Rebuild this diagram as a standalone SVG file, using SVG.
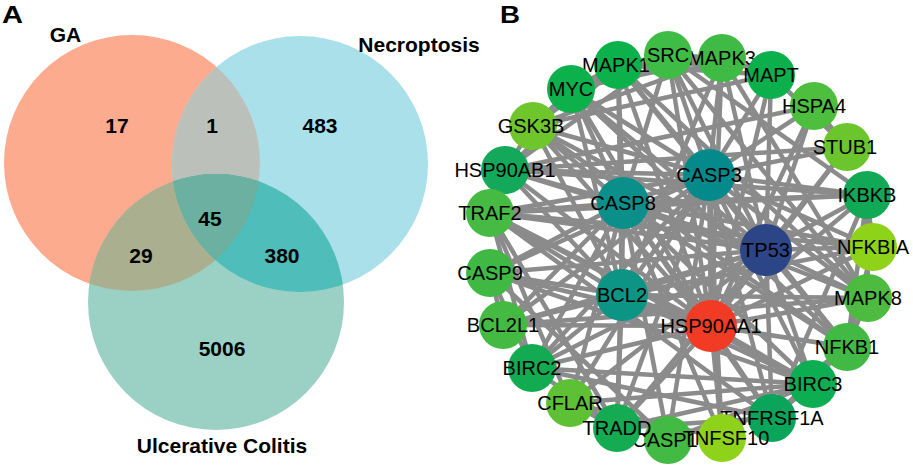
<svg xmlns="http://www.w3.org/2000/svg" width="913" height="467" viewBox="0 0 913 467">
<style>
.lbl{font-family:"Liberation Sans",Arial,sans-serif;font-weight:bold;font-size:21px;fill:#000;text-anchor:middle}
.pan{font-family:"Liberation Sans",Arial,sans-serif;font-weight:bold;font-size:24px;fill:#000}
.nt{font-family:"Liberation Sans",Arial,sans-serif;font-size:20px;fill:#000;text-anchor:middle}
.e line{stroke:#8b8b8b;stroke-width:4.5}
</style>
<defs>
<clipPath id="cGA"><circle cx="132" cy="163" r="128"/></clipPath>
<clipPath id="cNE"><circle cx="300" cy="164" r="128"/></clipPath>
</defs>
<rect width="913" height="467" fill="#fff"/>
<text class="pan" x="2" y="23" textLength="21" lengthAdjust="spacingAndGlyphs">A</text>
<text class="pan" x="500" y="23" textLength="20" lengthAdjust="spacingAndGlyphs">B</text>
<g id="venn">
<circle id="ga" cx="132" cy="163" r="128" fill="#fcab8f"/>
<circle id="nec" cx="300" cy="164" r="128" fill="#a9e0ea"/>
<circle id="uc" cx="216" cy="302" r="128" fill="#9bd1c4"/>
<g clip-path="url(#cGA)"><circle cx="300" cy="164" r="128" fill="#bcc0ba"/></g>
<g clip-path="url(#cGA)"><circle cx="216" cy="302" r="128" fill="#aab08f"/></g>
<g clip-path="url(#cNE)"><circle cx="216" cy="302" r="128" fill="#4fbdb9"/></g>
<g clip-path="url(#cGA)"><g clip-path="url(#cNE)"><circle cx="216" cy="302" r="128" fill="#6bb0a0"/></g></g>
<text class="lbl" x="65.5" y="42">GA</text>
<text class="lbl" x="419" y="52">Necroptosis</text>
<text class="lbl" x="222" y="453">Ulcerative Colitis</text>
<text class="lbl" x="117" y="133">17</text>
<text class="lbl" x="212" y="133">1</text>
<text class="lbl" x="320" y="133">483</text>
<text class="lbl" x="210" y="226">45</text>
<text class="lbl" x="141" y="263">29</text>
<text class="lbl" x="282" y="263">380</text>
<text class="lbl" x="222" y="356">5006</text>
</g>
<g id="edges" class="e">
<line x1="711" y1="326" x2="571" y2="89"/><line x1="711" y1="326" x2="618" y2="65"/><line x1="711" y1="326" x2="668" y2="55"/><line x1="711" y1="326" x2="722" y2="58"/><line x1="711" y1="326" x2="771" y2="75"/><line x1="711" y1="326" x2="814" y2="106"/><line x1="711" y1="326" x2="847" y2="147"/><line x1="711" y1="326" x2="533" y2="126"/><line x1="711" y1="326" x2="505" y2="170"/><line x1="711" y1="326" x2="490" y2="213"/><line x1="711" y1="326" x2="490" y2="273"/><line x1="711" y1="326" x2="503" y2="325"/><line x1="711" y1="326" x2="532" y2="368"/><line x1="711" y1="326" x2="617" y2="428"/><line x1="711" y1="326" x2="722" y2="438"/><line x1="711" y1="326" x2="772" y2="418"/><line x1="711" y1="326" x2="813" y2="384"/><line x1="711" y1="326" x2="847" y2="347"/><line x1="711" y1="326" x2="868" y2="298"/><line x1="711" y1="326" x2="873" y2="247"/><line x1="711" y1="326" x2="867" y2="195"/><line x1="711" y1="326" x2="623" y2="203"/><line x1="711" y1="326" x2="709" y2="175"/><line x1="711" y1="326" x2="766" y2="250"/><line x1="711" y1="326" x2="622" y2="295"/>
<line x1="766" y1="250" x2="571" y2="89"/><line x1="766" y1="250" x2="618" y2="65"/><line x1="766" y1="250" x2="668" y2="55"/><line x1="766" y1="250" x2="722" y2="58"/><line x1="766" y1="250" x2="771" y2="75"/><line x1="766" y1="250" x2="814" y2="106"/><line x1="766" y1="250" x2="847" y2="147"/><line x1="766" y1="250" x2="533" y2="126"/><line x1="766" y1="250" x2="505" y2="170"/><line x1="766" y1="250" x2="490" y2="213"/><line x1="766" y1="250" x2="490" y2="273"/><line x1="766" y1="250" x2="503" y2="325"/><line x1="766" y1="250" x2="532" y2="368"/><line x1="766" y1="250" x2="570" y2="403"/><line x1="766" y1="250" x2="617" y2="428"/><line x1="766" y1="250" x2="772" y2="418"/><line x1="766" y1="250" x2="813" y2="384"/><line x1="766" y1="250" x2="847" y2="347"/><line x1="766" y1="250" x2="868" y2="298"/><line x1="766" y1="250" x2="873" y2="247"/><line x1="766" y1="250" x2="867" y2="195"/><line x1="766" y1="250" x2="623" y2="203"/><line x1="766" y1="250" x2="709" y2="175"/><line x1="766" y1="250" x2="622" y2="295"/>
<line x1="709" y1="175" x2="571" y2="89"/><line x1="709" y1="175" x2="618" y2="65"/><line x1="709" y1="175" x2="668" y2="55"/><line x1="709" y1="175" x2="722" y2="58"/><line x1="709" y1="175" x2="771" y2="75"/><line x1="709" y1="175" x2="814" y2="106"/><line x1="709" y1="175" x2="847" y2="147"/><line x1="709" y1="175" x2="533" y2="126"/><line x1="709" y1="175" x2="505" y2="170"/><line x1="709" y1="175" x2="490" y2="213"/><line x1="709" y1="175" x2="490" y2="273"/><line x1="709" y1="175" x2="503" y2="325"/><line x1="709" y1="175" x2="532" y2="368"/><line x1="709" y1="175" x2="570" y2="403"/><line x1="709" y1="175" x2="617" y2="428"/><line x1="709" y1="175" x2="668" y2="440"/><line x1="709" y1="175" x2="722" y2="438"/><line x1="709" y1="175" x2="772" y2="418"/><line x1="709" y1="175" x2="813" y2="384"/><line x1="709" y1="175" x2="847" y2="347"/><line x1="709" y1="175" x2="868" y2="298"/><line x1="709" y1="175" x2="873" y2="247"/><line x1="709" y1="175" x2="867" y2="195"/><line x1="709" y1="175" x2="623" y2="203"/><line x1="709" y1="175" x2="622" y2="295"/>
<line x1="623" y1="203" x2="571" y2="89"/><line x1="623" y1="203" x2="618" y2="65"/><line x1="623" y1="203" x2="668" y2="55"/><line x1="623" y1="203" x2="533" y2="126"/><line x1="623" y1="203" x2="505" y2="170"/><line x1="623" y1="203" x2="490" y2="213"/><line x1="623" y1="203" x2="490" y2="273"/><line x1="623" y1="203" x2="503" y2="325"/><line x1="623" y1="203" x2="532" y2="368"/><line x1="623" y1="203" x2="570" y2="403"/><line x1="623" y1="203" x2="617" y2="428"/><line x1="623" y1="203" x2="668" y2="440"/><line x1="623" y1="203" x2="722" y2="438"/><line x1="623" y1="203" x2="772" y2="418"/><line x1="623" y1="203" x2="813" y2="384"/><line x1="623" y1="203" x2="847" y2="347"/><line x1="623" y1="203" x2="868" y2="298"/><line x1="623" y1="203" x2="873" y2="247"/><line x1="623" y1="203" x2="867" y2="195"/><line x1="623" y1="203" x2="622" y2="295"/>
<line x1="622" y1="295" x2="571" y2="89"/><line x1="622" y1="295" x2="618" y2="65"/><line x1="622" y1="295" x2="722" y2="58"/><line x1="622" y1="295" x2="533" y2="126"/><line x1="622" y1="295" x2="505" y2="170"/><line x1="622" y1="295" x2="490" y2="213"/><line x1="622" y1="295" x2="490" y2="273"/><line x1="622" y1="295" x2="503" y2="325"/><line x1="622" y1="295" x2="532" y2="368"/><line x1="622" y1="295" x2="617" y2="428"/><line x1="622" y1="295" x2="813" y2="384"/><line x1="622" y1="295" x2="868" y2="298"/><line x1="622" y1="295" x2="873" y2="247"/>
<line x1="618" y1="65" x2="722" y2="58"/><line x1="618" y1="65" x2="668" y2="55"/><line x1="722" y1="58" x2="668" y2="55"/><line x1="618" y1="65" x2="571" y2="89"/><line x1="722" y1="58" x2="571" y2="89"/><line x1="618" y1="65" x2="868" y2="298"/><line x1="722" y1="58" x2="868" y2="298"/><line x1="618" y1="65" x2="771" y2="75"/><line x1="722" y1="58" x2="771" y2="75"/><line x1="533" y1="126" x2="771" y2="75"/><line x1="533" y1="126" x2="571" y2="89"/><line x1="533" y1="126" x2="618" y2="65"/><line x1="533" y1="126" x2="722" y2="58"/><line x1="533" y1="126" x2="847" y2="347"/><line x1="533" y1="126" x2="505" y2="170"/><line x1="668" y1="55" x2="868" y2="298"/><line x1="668" y1="55" x2="505" y2="170"/><line x1="668" y1="55" x2="867" y2="195"/><line x1="814" y1="106" x2="847" y2="147"/><line x1="814" y1="106" x2="505" y2="170"/><line x1="847" y1="147" x2="505" y2="170"/><line x1="847" y1="147" x2="771" y2="75"/><line x1="505" y1="170" x2="867" y2="195"/><line x1="505" y1="170" x2="618" y2="65"/>
<line x1="490" y1="213" x2="532" y2="368"/><line x1="490" y1="213" x2="813" y2="384"/><line x1="490" y1="213" x2="617" y2="428"/><line x1="490" y1="213" x2="772" y2="418"/><line x1="490" y1="213" x2="867" y2="195"/><line x1="490" y1="213" x2="873" y2="247"/><line x1="490" y1="213" x2="570" y2="403"/><line x1="617" y1="428" x2="772" y2="418"/><line x1="617" y1="428" x2="532" y2="368"/><line x1="617" y1="428" x2="813" y2="384"/><line x1="617" y1="428" x2="570" y2="403"/><line x1="772" y1="418" x2="532" y2="368"/><line x1="772" y1="418" x2="813" y2="384"/><line x1="772" y1="418" x2="867" y2="195"/><line x1="772" y1="418" x2="847" y2="347"/><line x1="532" y1="368" x2="813" y2="384"/><line x1="532" y1="368" x2="490" y2="273"/><line x1="813" y1="384" x2="490" y2="273"/><line x1="490" y1="273" x2="503" y2="325"/><line x1="490" y1="273" x2="668" y2="440"/><line x1="503" y1="325" x2="868" y2="298"/><line x1="570" y1="403" x2="813" y2="384"/><line x1="722" y1="438" x2="570" y2="403"/><line x1="722" y1="438" x2="847" y2="347"/><line x1="867" y1="195" x2="873" y2="247"/><line x1="867" y1="195" x2="847" y2="347"/><line x1="873" y1="247" x2="847" y2="347"/><line x1="847" y1="347" x2="571" y2="89"/><line x1="868" y1="298" x2="847" y2="347"/><line x1="868" y1="298" x2="867" y2="195"/><line x1="668" y1="440" x2="813" y2="384"/>
</g>
<g id="n-MAPK1"><circle cx="618" cy="65" r="24" fill="#0db14c"/><text class="nt" x="616" y="72">MAPK1</text></g>
<g id="n-MAPK3"><circle cx="722" cy="58" r="24" fill="#3fbb45"/><text class="nt" x="722" y="65">MAPK3</text></g>
<g id="n-SRC"><circle cx="668" cy="55" r="24" fill="#3fbc45"/><text class="nt" x="668" y="62">SRC</text></g>
<g id="n-MAPT"><circle cx="771" cy="75" r="24" fill="#0bb04c"/><text class="nt" x="771" y="82">MAPT</text></g>
<g id="n-MYC"><circle cx="571" cy="89" r="24" fill="#0db14c"/><text class="nt" x="571" y="96">MYC</text></g>
<g id="n-HSPA4"><circle cx="814" cy="106" r="24" fill="#4ebe3e"/><text class="nt" x="814" y="113">HSPA4</text></g>
<g id="n-STUB1"><circle cx="847" cy="147" r="24" fill="#6ac62c"/><text class="nt" x="845" y="154">STUB1</text></g>
<g id="n-GSK3B"><circle cx="533" cy="126" r="24" fill="#6ec62c"/><text class="nt" x="531" y="133">GSK3B</text></g>
<g id="n-HSP90AB1"><circle cx="505" cy="170" r="24" fill="#14a85a"/><text class="nt" x="505" y="177">HSP90AB1</text></g>
<g id="n-TRAF2"><circle cx="490" cy="213" r="24" fill="#46ba42"/><text class="nt" x="490" y="220">TRAF2</text></g>
<g id="n-CASP9"><circle cx="490" cy="273" r="24" fill="#40b944"/><text class="nt" x="490" y="280">CASP9</text></g>
<g id="n-BCL2L1"><circle cx="503" cy="325" r="24" fill="#44ba42"/><text class="nt" x="503" y="332">BCL2L1</text></g>
<g id="n-BIRC2"><circle cx="532" cy="368" r="24" fill="#12ab52"/><text class="nt" x="532" y="375">BIRC2</text></g>
<g id="n-CFLAR"><circle cx="570" cy="403" r="24" fill="#5ec034"/><text class="nt" x="570" y="410">CFLAR</text></g>
<g id="n-CASP1"><circle cx="668" cy="440" r="24" fill="#42ba43"/><text class="nt" x="665" y="447">CASP1</text></g>
<g id="n-TRADD"><circle cx="617" cy="428" r="24" fill="#14ab52"/><text class="nt" x="617" y="435">TRADD</text></g>
<g id="n-TNFRSF1A"><circle cx="772" cy="418" r="24" fill="#0aa45a"/><text class="nt" x="772" y="425">TNFRSF1A</text></g>
<g id="n-TNFSF10"><circle cx="722" cy="438" r="24" fill="#8fd21a"/><text class="nt" x="726" y="445">TNFSF10</text></g>
<g id="n-BIRC3"><circle cx="813" cy="384" r="24" fill="#0dad52"/><text class="nt" x="813" y="391">BIRC3</text></g>
<g id="n-NFKB1"><circle cx="847" cy="347" r="24" fill="#42b944"/><text class="nt" x="847" y="354">NFKB1</text></g>
<g id="n-MAPK8"><circle cx="868" cy="298" r="24" fill="#4cbb40"/><text class="nt" x="868" y="305">MAPK8</text></g>
<g id="n-NFKBIA"><circle cx="873" cy="247" r="24" fill="#8fd21a"/><text class="nt" x="873" y="254">NFKBIA</text></g>
<g id="n-IKBKB"><circle cx="867" cy="195" r="24" fill="#11a856"/><text class="nt" x="867" y="202">IKBKB</text></g>
<g id="n-CASP8"><circle cx="623" cy="203" r="26" fill="#0a8f8a"/><text class="nt" x="623" y="210">CASP8</text></g>
<g id="n-CASP3"><circle cx="709" cy="175" r="26" fill="#058a8c"/><text class="nt" x="709" y="182">CASP3</text></g>
<g id="n-TP53"><circle cx="766" cy="250" r="26" fill="#2c4586"/><text class="nt" x="766" y="257">TP53</text></g>
<g id="n-BCL2"><circle cx="622" cy="295" r="26" fill="#0c9585"/><text class="nt" x="622" y="302">BCL2</text></g>
<g id="n-HSP90AA1"><circle cx="711" cy="326" r="26" fill="#f23b24"/><text class="nt" x="711" y="333">HSP90AA1</text></g>
</svg>
